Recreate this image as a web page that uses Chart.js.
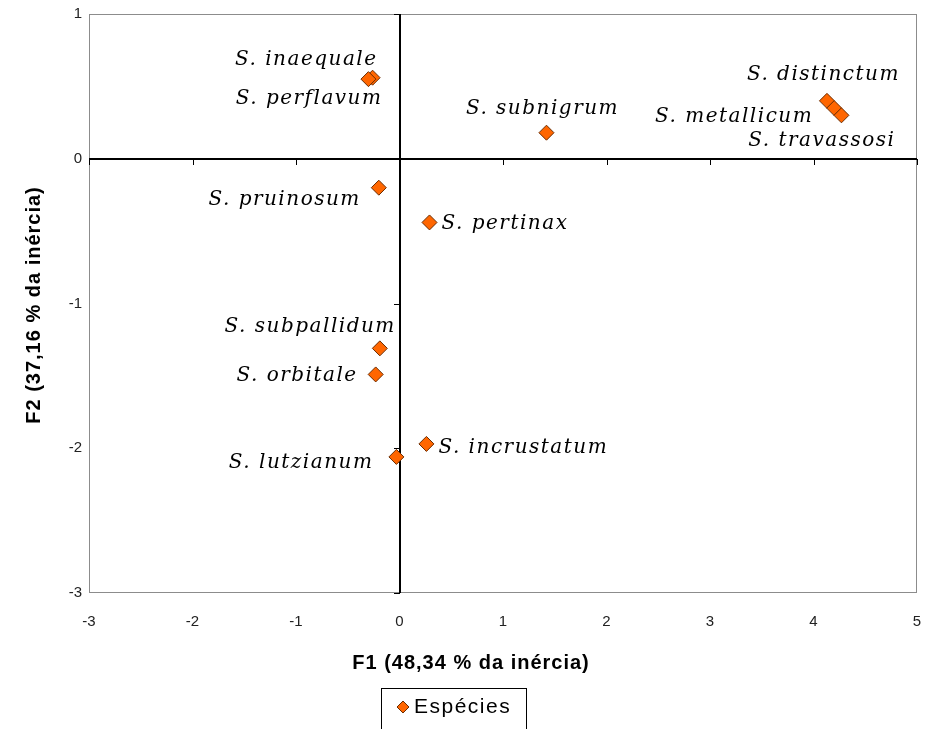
<!DOCTYPE html>
<html>
<head>
<meta charset="utf-8">
<script src="https://cdn.jsdelivr.net/npm/chart.js@4.4.0/dist/chart.umd.min.js"></script>
<style>
  html, body { margin: 0; padding: 0; background: #fff; }
  #wrap { width: 928px; height: 729px; position: relative; }
</style>
</head>
<body>
<div id="wrap"><canvas id="pcaChart" width="928" height="729"></canvas></div>
<script>
// species names and their coordinates on F1 / F2
const species = ['S. inaequale', 'S. perflavum', 'S. subnigrum', 'S. distinctum', 'S. metallicum',
  'S. travassosi', 'S. pruinosum', 'S. pertinax', 'S. subpallidum', 'S. orbitale',
  'S. incrustatum', 'S. lutzianum'];
const f1 = [-0.26, -0.30, 1.42, 4.13, 4.20, 4.27, -0.20, 0.29, -0.19, -0.23, 0.26, -0.03];
const f2 = [0.56, 0.55, 0.18, 0.40, 0.35, 0.30, -0.20, -0.44, -1.31, -1.49, -1.97, -2.06];
const xTicks = [-3, -2, -1, 0, 1, 2, 3, 4, 5];
const yTicks = [-3, -2, -1, 0, 1];

// where each label sits relative to its point (px) and how it is aligned
const labelPos = [
  [5, -18, 'right'], [14, 20, 'right'], [-4, -24, 'center'], [73, -26, 'right'],
  [-21, 9, 'right'], [54, 25, 'right'], [-18, 12, 'right'], [12, 1, 'left'],
  [16, -22, 'right'], [-18, 1, 'right'], [12, 4, 'left'], [-23, 6, 'right']
];

const points = species.map((s, i) => ({ x: f1[i], y: f2[i] }));

const pcaPlugin = {
  id: 'pcaPlugin',
  beforeDatasetsDraw(chart) {
    const { ctx, chartArea: a, scales: { x, y } } = chart;
    const x0 = Math.round(x.getPixelForValue(0)), y0 = Math.round(y.getPixelForValue(0));
    ctx.save();
    // frame
    ctx.strokeStyle = '#8c8c8c';
    ctx.lineWidth = 1;
    ctx.strokeRect(a.left + 0.5, a.top + 0.5, a.right - a.left - 1, a.bottom - a.top - 1);
    // zero axes
    ctx.strokeStyle = '#000';
    ctx.lineWidth = 2;
    ctx.beginPath();
    ctx.moveTo(a.left, y0); ctx.lineTo(a.right, y0);
    ctx.moveTo(x0, a.top); ctx.lineTo(x0, a.bottom);
    ctx.stroke();
    // tick marks on the zero axes
    ctx.lineWidth = 1;
    ctx.beginPath();
    xTicks.forEach(v => {
      const px = Math.round(x.getPixelForValue(v)) + 0.5;
      ctx.moveTo(px, y0); ctx.lineTo(px, y0 + 6);
    });
    yTicks.forEach(v => {
      const py = Math.round(y.getPixelForValue(v)) + 0.5;
      ctx.moveTo(x0, py); ctx.lineTo(x0 - 6, py);
    });
    ctx.stroke();
    ctx.restore();
  },
  afterDatasetsDraw(chart) {
    const { ctx } = chart;
    const meta = chart.getDatasetMeta(0);
    ctx.save();
    // point labels
    ctx.font = 'italic 20px "DejaVu Serif", serif';
    ctx.letterSpacing = '1.5px';
    ctx.fillStyle = '#000';
    ctx.textBaseline = 'middle';
    meta.data.forEach((el, i) => {
      const [dx, dy, al] = labelPos[i];
      ctx.textAlign = al;
      ctx.fillText(species[i], el.x + dx, el.y + dy);
    });
    // axis titles
    ctx.font = 'bold 20px "Liberation Sans", Arial, sans-serif';
    ctx.letterSpacing = '1px';
    ctx.textAlign = 'center';
    ctx.fillText('F1 (48,34 % da inércia)', 471, 663);
    ctx.save();
    ctx.translate(34, 305);
    ctx.rotate(-Math.PI / 2);
    ctx.fillText('F2 (37,16 % da inércia)', 0, 0);
    ctx.restore();
    // legend box
    const ds = chart.data.datasets[0];
    ctx.strokeStyle = '#000';
    ctx.lineWidth = 1;
    ctx.strokeRect(381.5, 688.5, 145, 45);
    ctx.beginPath();
    const lx = 403, ly = 707;
    ctx.moveTo(lx, ly - 6); ctx.lineTo(lx + 6, ly); ctx.lineTo(lx, ly + 6); ctx.lineTo(lx - 6, ly); ctx.closePath();
    ctx.fillStyle = ds.backgroundColor;
    ctx.fill();
    ctx.strokeStyle = ds.borderColor;
    ctx.stroke();
    ctx.font = '21px "Liberation Sans", Arial, sans-serif';
    ctx.letterSpacing = '1.5px';
    ctx.fillStyle = '#000';
    ctx.textAlign = 'left';
    ctx.fillText(ds.label, 414, 707);
    ctx.restore();
  }
};

const tickFont = { size: 15, family: '"Liberation Sans", Arial, sans-serif' };

const ctx = document.getElementById('pcaChart').getContext('2d');
const pcaChart = new Chart(ctx, {
  type: 'scatter',
  data: {
    datasets: [{
      label: 'Espécies',
      data: points,
      pointStyle: 'rectRot',
      pointRadius: 7.5,
      pointHoverRadius: 7.5,
      backgroundColor: '#ff6600',
      borderColor: '#6b2c00',
      borderWidth: 1
    }]
  },
  options: {
    responsive: false,
    animation: false,
    layout: { padding: { left: 0, top: 14, right: 11, bottom: 0 } },
    plugins: { legend: { display: false }, tooltip: { enabled: false } },
    scales: {
      x: {
        type: 'linear', min: -3, max: 5,
        afterBuildTicks: s => { s.ticks = xTicks.map(v => ({ value: v })); },
        afterFit: s => { s.height = 136; s.paddingLeft = 0; s.paddingRight = 0; },
        grid: { display: false, drawTicks: false },
        border: { display: false },
        ticks: { padding: 20, color: '#222', font: tickFont, maxRotation: 0 }
      },
      y: {
        type: 'linear', min: -3, max: 1,
        afterBuildTicks: s => { s.ticks = yTicks.map(v => ({ value: v })); },
        afterFit: s => { s.width = 89; s.paddingTop = 0; s.paddingBottom = 0; },
        grid: { display: false, drawTicks: false },
        border: { display: false },
        ticks: { padding: 7, color: '#222', font: tickFont }
      }
    }
  },
  plugins: [pcaPlugin]
});
</script>
</body>
</html>
